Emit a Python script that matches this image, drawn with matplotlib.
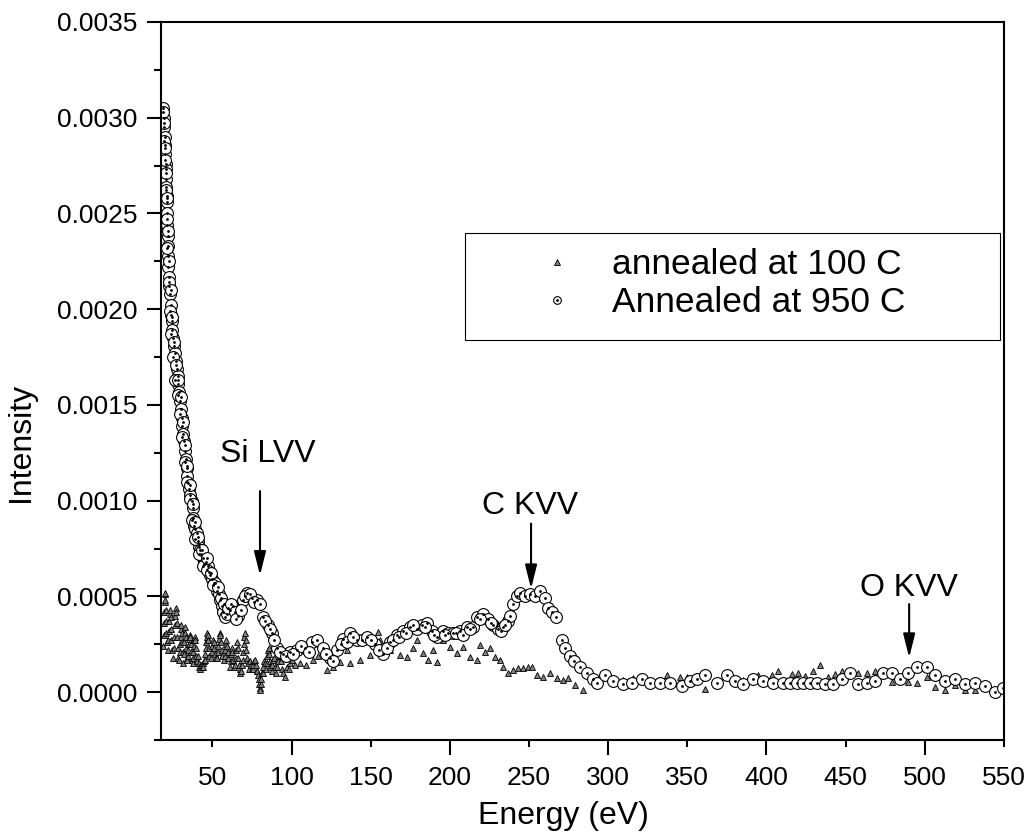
import matplotlib
matplotlib.use("Agg")
import matplotlib.pyplot as plt
from matplotlib.patches import Rectangle
from matplotlib.ticker import MultipleLocator, FormatStrFormatter

plt.rcParams['font.family'] = ['Liberation Sans', 'DejaVu Sans']

# annealed at 100 C (triangles) - noisy low-energy part, read spike by spike
tri_x = [19.0, 19.2, 19.4, 19.6, 19.8, 20.0, 20.2, 20.4, 20.6, 20.8, 21.0, 21.2,
         21.8, 22.1, 22.4, 22.7, 23.0, 23.3, 23.6, 23.9, 24.2, 24.5,
         25.4, 25.7, 26.0, 26.3, 26.6, 26.9, 27.2, 27.5, 27.8, 28.1, 28.4,
         29.0, 29.3, 29.6, 29.9, 30.2, 30.5, 30.8, 31.1, 31.4,
         31.7, 32.0, 32.3, 32.6, 32.9, 33.2, 33.5, 33.8,
         34.2, 34.5, 34.8, 35.1, 35.4, 35.7, 36.0, 36.3, 36.6, 36.9,
         37.5, 37.8, 38.1, 38.4, 38.7, 39.0, 39.3, 39.6, 39.9, 40.2,
         40.8, 41.3, 41.8, 42.3, 42.8, 43.3, 43.8, 44.3, 44.8,
         45.2, 45.5, 45.8, 46.1, 46.4, 46.7, 47.0, 47.3, 47.6, 48.0,
         49.2, 49.6, 50.0, 50.4, 50.8, 51.2, 51.6, 52.0,
         53.0, 53.4, 53.8, 54.2, 54.6, 55.0, 55.4, 55.8, 56.2,
         57.3, 57.7, 58.1, 58.5, 58.9, 59.3, 59.7, 60.1,
         61.1, 61.5, 61.9, 62.3, 62.7, 63.1, 63.5,
         64.3, 64.7, 65.1, 65.5, 65.9, 66.3, 66.7,
         67.2, 67.7, 68.2, 68.7,
         69.1, 69.5, 69.9, 70.3, 70.7, 71.1, 71.5, 71.9,
         72.4, 73.0, 73.6, 74.2, 74.8,
         75.4, 75.9, 76.4, 76.9, 77.4, 77.9,
         78.5, 78.9, 79.3, 79.7, 80.0, 80.3, 80.6, 80.9, 81.3,
         81.8, 82.3, 82.8, 83.3, 83.8,
         84.3, 84.7, 85.1, 85.5, 85.9, 86.3, 86.7,
         87.4, 87.9, 88.4, 88.9, 89.4,
         90.4, 91.0, 91.6, 92.2, 92.8, 93.4, 94.0,
         94.8, 95.8, 97.2, 98.3, 99.1, 100.5, 102.3]
tri_y = [0.00024, 0.00030, 0.00036, 0.00042, 0.00047, 0.00051, 0.00052, 0.00048, 0.00043, 0.00037, 0.00031, 0.00026,
         0.00022, 0.00027, 0.00032, 0.00037, 0.00041, 0.00043, 0.00039, 0.00033, 0.00027, 0.00022,
         0.00018, 0.00023, 0.00029, 0.00035, 0.00040, 0.00044, 0.00042, 0.00036, 0.00029, 0.00023, 0.00018,
         0.00017, 0.00021, 0.00025, 0.00029, 0.00033, 0.00035, 0.00031, 0.00026, 0.00021,
         0.00015, 0.00020, 0.00026, 0.00031, 0.00034, 0.00029, 0.00023, 0.00018,
         0.00017, 0.00019, 0.00022, 0.00025, 0.00028, 0.00030, 0.00029, 0.00025, 0.00021, 0.00017,
         0.00015, 0.00018, 0.00021, 0.00024, 0.00027, 0.00029, 0.00027, 0.00023, 0.00019, 0.00016,
         0.00019, 0.00015, 0.00013, 0.00012, 0.00014, 0.00013, 0.00015, 0.00013, 0.00016,
         0.00017, 0.00020, 0.00023, 0.00026, 0.00029, 0.00031, 0.00030, 0.00027, 0.00023, 0.00019,
         0.00018, 0.00021, 0.00024, 0.00027, 0.00026, 0.00023, 0.00020, 0.00018,
         0.00018, 0.00021, 0.00024, 0.00028, 0.00031, 0.00030, 0.00026, 0.00022, 0.00019,
         0.00017, 0.00019, 0.00022, 0.00025, 0.00027, 0.00024, 0.00021, 0.00018,
         0.00013, 0.00016, 0.00020, 0.00023, 0.00021, 0.00017, 0.00013,
         0.00014, 0.00018, 0.00022, 0.00026, 0.00023, 0.00018, 0.00014,
         0.00012, 0.00010, 0.00011, 0.00014,
         0.00017, 0.00021, 0.00025, 0.00029, 0.00031, 0.00027, 0.00022, 0.00018,
         0.00015, 0.00012, 0.00016, 0.00014, 0.00012,
         0.00012, 0.00014, 0.00016, 0.00017, 0.00014, 0.00011,
         0.00011, 0.00009, 0.00007, 0.00004, 0.00002, 0.00001, 0.00004, 0.00007, 0.00010,
         0.00010, 0.00013, 0.00016, 0.00015, 0.00012,
         0.00015, 0.00019, 0.00022, 0.00023, 0.00020, 0.00016, 0.00013,
         0.00011, 0.00014, 0.00017, 0.00018, 0.00013,
         0.00010, 0.00013, 0.00016, 0.00019, 0.00020, 0.00016, 0.00012,
         0.00010, 0.00008, 0.00013, 0.00012, 0.00015, 0.00017, 0.00014]

# annealed at 100 C - higher energies
tri_x_hi = [105.4, 109.0, 113.6, 117.0, 122.5, 126.0, 130.7, 134.9, 137.0, 143.3,
            149.6, 154.7, 156.0, 162.3, 168.6, 173.0, 176.8, 179.3, 183.1, 186.3,
            189.4, 192.0, 195.7, 200.2, 204.6, 208.4, 212.8, 217.2, 219.1, 222.3,
            225.4, 228.6, 231.7, 233.6, 236.8, 240.0, 243.1, 246.3, 249.4, 252.0,
            255.1, 258.9, 263.3, 267.8, 271.5, 274.7, 279.1, 284.2, 296.8, 309.4,
            315.7, 326.5, 337.2, 345.5, 349.9, 361.2, 385.2, 394.7, 403.6, 407.4,
            416.2, 420.0, 424.4, 429.5, 433.9, 439.0, 443.4, 447.8, 457.9, 463.6,
            468.6, 479.4, 489.5, 495.2, 501.5, 506.5, 512.9, 519.2, 525.5, 531.8]
tri_y_hi = [0.000151, 0.000140, 0.000167, 0.000190, 0.000115, 0.000130, 0.000156, 0.000219, 0.000151, 0.000167,
            0.000193, 0.000312, 0.000271, 0.000219, 0.000193, 0.000182, 0.000229, 0.000271, 0.000203, 0.000167,
            0.000219, 0.000156, 0.000271, 0.000234, 0.000203, 0.000234, 0.000182, 0.000167, 0.000245, 0.000208,
            0.000229, 0.000182, 0.000167, 0.000130, 0.000099, 0.000115, 0.000125, 0.000125, 0.000130, 0.000130,
            0.000089, 0.000078, 0.000099, 0.000073, 0.000063, 0.000073, 0.000036, 0.000010, 0.000099, 0.000063,
            0.000073, 0.000063, 0.000089, 0.000078, 0.000078, 0.000016, 0.000063, 0.000089, 0.000089, 0.000109,
            0.000094, 0.000099, 0.000083, 0.000109, 0.000141, 0.000078, 0.000094, 0.000109, 0.000099, 0.000099,
            0.000109, 0.000052, 0.000052, 0.000047, 0.000078, 0.000026, 0.000010, 0.000036, 0.000010, 0.000010]

# Annealed at 950 C (circles)
circ_x = [18.9, 19.2, 19.5, 19.8, 20.1, 20.3, 20.5, 20.6, 20.8, 21.0,
          21.1, 21.2, 21.4, 21.6, 21.7, 21.8, 22.0, 22.2, 22.5, 22.9,
          23.3, 23.7, 24.0, 24.4, 24.8, 25.3, 25.8, 26.3, 26.9, 27.5,
          28.0, 28.5, 29.0, 29.6, 30.1, 30.7, 31.1, 31.5, 32.1, 32.8,
          33.3, 33.8, 34.3, 34.8, 35.5, 36.2, 37.0, 37.5, 38.0, 38.6,
          39.3, 40.2, 41.0, 41.6, 42.2, 43.0, 44.1, 45.0, 46.0, 47.3,
          48.0, 48.6, 49.8, 51.0, 51.7, 52.8, 54.0, 54.9, 56.0, 57.0,
          58.0, 61.2, 63.1, 66.2, 69.4, 71.9, 75.1, 78.2, 82.0, 85.2,
          87.7, 90.9, 94.7, 99.1, 103.5, 108.6, 113.0, 116.1, 119.9, 124.4,
          128.8, 132.6, 137.0, 141.4, 144.6, 147.7, 152.8, 157.8, 162.3, 166.7,
          170.5, 174.9, 179.3, 182.5, 185.6, 188.8, 192.0, 195.7, 199.0, 202.1,
          206.5, 210.9, 214.7, 217.2, 221.0, 224.2, 227.3, 230.5, 233.6, 236.8,
          238.1, 240.0, 242.5, 244.4, 247.5, 250.7, 253.9, 257.0, 260.2, 262.1,
          264.6, 267.1, 270.9, 272.8, 276.0, 278.5, 282.3, 286.7, 290.5, 293.0,
          298.0, 303.1, 309.4, 315.1, 321.4, 326.5, 332.8, 339.1, 346.7, 351.8,
          356.2, 361.2, 368.8, 375.1, 380.2, 385.2, 391.6, 397.9, 404.2, 410.5,
          414.9, 419.4, 423.1, 427.6, 432.0, 437.0, 442.1, 447.8, 452.8, 457.9,
          463.6, 468.6, 473.7, 479.4, 484.4, 489.5, 495.2, 501.5, 506.5, 512.9,
          519.2, 525.5, 531.8, 538.1, 544.4, 549.5,
          # in-between readings of the crowded low-energy band
          19.0, 19.7, 19.6, 20.4, 20.2, 21.0, 20.7, 21.5, 21.2, 22.0,
          21.6, 22.5, 22.4, 23.6, 23.2, 24.6, 24.2, 25.6, 25.2, 26.8,
          26.6, 28.2, 28.3, 29.9, 29.8, 31.2, 31.0, 32.7, 32.6, 34.2,
          34.1, 35.8, 35.6, 37.6, 37.3, 39.2, 39.0, 41.2, 41.5, 43.6,
          44.0, 46.8, 46.5, 49.0, 50.2, 53.3, 55.5, 57.5, 59.0, 60.0,
          62.0, 64.5, 65.0, 67.8, 70.5, 73.5, 76.5, 80.0, 83.5, 86.5,
          89.2, 92.8, 96.8, 101.0, 106.0, 111.0, 122.0, 126.0, 131.0, 135.0,
          139.0, 150.0, 155.0, 160.0, 164.0, 168.0, 172.0, 177.0, 184.0, 190.0,
          197.0, 204.0, 208.0, 213.0, 219.0, 226.0, 232.0, 235.0]
circ_y = [0.00305, 0.00300, 0.00295, 0.00290, 0.00286, 0.00281, 0.00276, 0.00273, 0.00268, 0.00264,
          0.00259, 0.00256, 0.00250, 0.00244, 0.00238, 0.00233, 0.00228, 0.00222, 0.00217, 0.00212,
          0.00208, 0.00202, 0.00197, 0.00194, 0.00189, 0.00185, 0.00181, 0.00177, 0.00173, 0.00169,
          0.00165, 0.00161, 0.00157, 0.00152, 0.00148, 0.00143, 0.00139, 0.00135, 0.00131, 0.00126,
          0.00122, 0.00117, 0.00113, 0.00109, 0.00106, 0.00103, 0.00100, 0.00096, 0.00091, 0.00087,
          0.00085, 0.00083, 0.00079, 0.00076, 0.00074, 0.00072, 0.00070, 0.00067, 0.00068, 0.00066,
          0.00063, 0.00061, 0.00059, 0.00057, 0.00057, 0.00053, 0.00051, 0.00048, 0.00045, 0.00042,
          0.00039, 0.00043, 0.00045, 0.00040, 0.00048, 0.00052, 0.00049, 0.00048, 0.00039, 0.00035,
          0.00031, 0.00023, 0.00020, 0.00021, 0.00022, 0.00023, 0.00026, 0.00027, 0.00023, 0.00018,
          0.00022, 0.00028, 0.00031, 0.00027, 0.00027, 0.00029, 0.00025, 0.00020, 0.00026, 0.00030,
          0.00032, 0.00034, 0.00033, 0.00035, 0.00036, 0.00032, 0.00029, 0.00032, 0.00031, 0.00031,
          0.00032, 0.00034, 0.00034, 0.00039, 0.00041, 0.00038, 0.00035, 0.00033, 0.00034, 0.00037,
          0.00040, 0.00046, 0.00050, 0.00052, 0.00050, 0.00051, 0.00050, 0.00053, 0.00049, 0.00044,
          0.00042, 0.00039, 0.00027, 0.00023, 0.00019, 0.00016, 0.00013, 0.00010, 0.00007, 0.00005,
          0.00009, 0.00006, 0.00004, 0.00005, 0.00007, 0.00005, 0.00005, 0.00005, 0.00003, 0.00006,
          0.00007, 0.00009, 0.00005, 0.00009, 0.00006, 0.00004, 0.00007, 0.00006, 0.00005, 0.00005,
          0.00005, 0.00005, 0.00005, 0.00005, 0.00005, 0.00004, 0.00004, 0.00007, 0.00010, 0.00004,
          0.00005, 0.00006, 0.00010, 0.00010, 0.00007, 0.00010, 0.00013, 0.00013, 0.00009, 0.00006,
          0.00007, 0.00004, 0.00005, 0.00003, 0.00000, 0.00002,
          0.00303, 0.00297, 0.00288, 0.00284, 0.00278, 0.00271, 0.00262, 0.00258, 0.00247, 0.00241,
          0.00232, 0.00225, 0.00214, 0.00210, 0.00199, 0.00196, 0.00187, 0.00183, 0.00175, 0.00171,
          0.00163, 0.00163, 0.00155, 0.00154, 0.00145, 0.00141, 0.00133, 0.00129, 0.00120, 0.00118,
          0.00110, 0.00108, 0.00101, 0.00098, 0.00090, 0.00089, 0.00080, 0.00081, 0.00072, 0.00074,
          0.00066, 0.00070, 0.00064, 0.00062, 0.00056, 0.00055, 0.00049, 0.00046, 0.00041, 0.00044,
          0.00046, 0.00042, 0.00038, 0.00043, 0.00050, 0.00051, 0.00047, 0.00046, 0.00037, 0.00033,
          0.00027, 0.00021, 0.00019, 0.00020, 0.00024, 0.00021, 0.00020, 0.00016, 0.00025, 0.00026,
          0.00029, 0.00027, 0.00022, 0.00023, 0.00027, 0.00029, 0.00031, 0.00035, 0.00034, 0.00030,
          0.00030, 0.00031, 0.00030, 0.00033, 0.00038, 0.00036, 0.00032, 0.00035]

# peak labels: (text, text x, text baseline y, arrow x, arrow tail y, arrow tip y)
peaks = [("Si LVV", 84.9, 0.00120, 80.1, 0.00105, 0.00061),
         ("C KVV", 250.4, 0.00093, 251.3, 0.00088, 0.00054),
         ("O KVV", 489.8, 0.00050, 490.1, 0.00046, 0.00018)]

fig = plt.figure(figsize=(10.29, 8.39), dpi=100)
ax = fig.add_axes([0.1565, 0.118, 0.8192, 0.8558])

tri_style = dict(linestyle='none', marker='^', markerfacecolor='#808080',
                 markeredgecolor='black', markeredgewidth=0.6)
tri, = ax.plot(tri_x, tri_y, markersize=5, **tri_style)
ax.plot(tri_x_hi, tri_y_hi, markersize=5, **tri_style)
circ, = ax.plot(circ_x, circ_y, linestyle='none', marker='o', markersize=8.5,
                markerfacecolor='white', markeredgecolor='black', markeredgewidth=0.8)
dot, = ax.plot(circ_x, circ_y, linestyle='none', marker='o', markersize=1.0,
               color='black')

for name, xt, yt, xa, y0, y1 in peaks:
    ax.text(xt, yt, name, ha='center', va='baseline', fontsize=23)
    ax.annotate('', xy=(xa, y1), xytext=(xa, y0),
                arrowprops=dict(arrowstyle='-|>,head_length=0.6,head_width=0.15',
                                mutation_scale=24, lw=1.5, color='black',
                                shrinkA=0, shrinkB=0))

ax.set_xlim(17.6, 550)
ax.set_ylim(-0.00025, 0.0035)

ax.xaxis.set_major_locator(MultipleLocator(100))
ax.xaxis.set_minor_locator(MultipleLocator(50))
ax.xaxis.set_major_formatter(FormatStrFormatter('%d'))
ax.xaxis.set_minor_formatter(FormatStrFormatter('%d'))
ax.yaxis.set_major_locator(MultipleLocator(0.0005))
ax.yaxis.set_minor_locator(MultipleLocator(0.00025))
ax.yaxis.set_major_formatter(FormatStrFormatter('%.4f'))

ax.tick_params(axis='both', which='both', direction='out', width=1.5,
               labelsize=19, top=False, right=False)
ax.tick_params(axis='x', which='major', length=11, pad=8)
ax.tick_params(axis='x', which='minor', length=5, pad=14)
ax.tick_params(axis='y', which='major', length=10, pad=7)
ax.tick_params(axis='y', which='minor', length=5)
for s in ax.spines.values():
    s.set_linewidth(1.5)

ax.set_xlabel('Energy (eV)', fontsize=23)
ax.set_ylabel('Intensity', fontsize=23)
ax.xaxis.set_label_coords(0.4775, -0.085)
ax.yaxis.set_label_coords(-0.148, 0.415)

# legend box drawn as its own frame, entries placed inside it
ax.add_patch(Rectangle((0.3606, 0.557), 0.6347, 0.149, transform=ax.transAxes,
                       fill=False, edgecolor='black', linewidth=0.8, zorder=5))
leg = ax.legend([tri, (circ, dot)], ['annealed at 100 C', 'Annealed at 950 C'],
                loc='upper left', bbox_to_anchor=(0.3784, 0.685),
                borderaxespad=0, borderpad=0, fontsize=25.5, handlelength=4.35,
                handletextpad=-0.62, labelspacing=0.15, frameon=False)
for line in leg.get_lines():
    if line.get_marker() == '^':
        line.set_markersize(4)
    elif line.get_markersize() > 2:
        line.set_markersize(5.5)

fig.savefig('out.png', dpi=100)
